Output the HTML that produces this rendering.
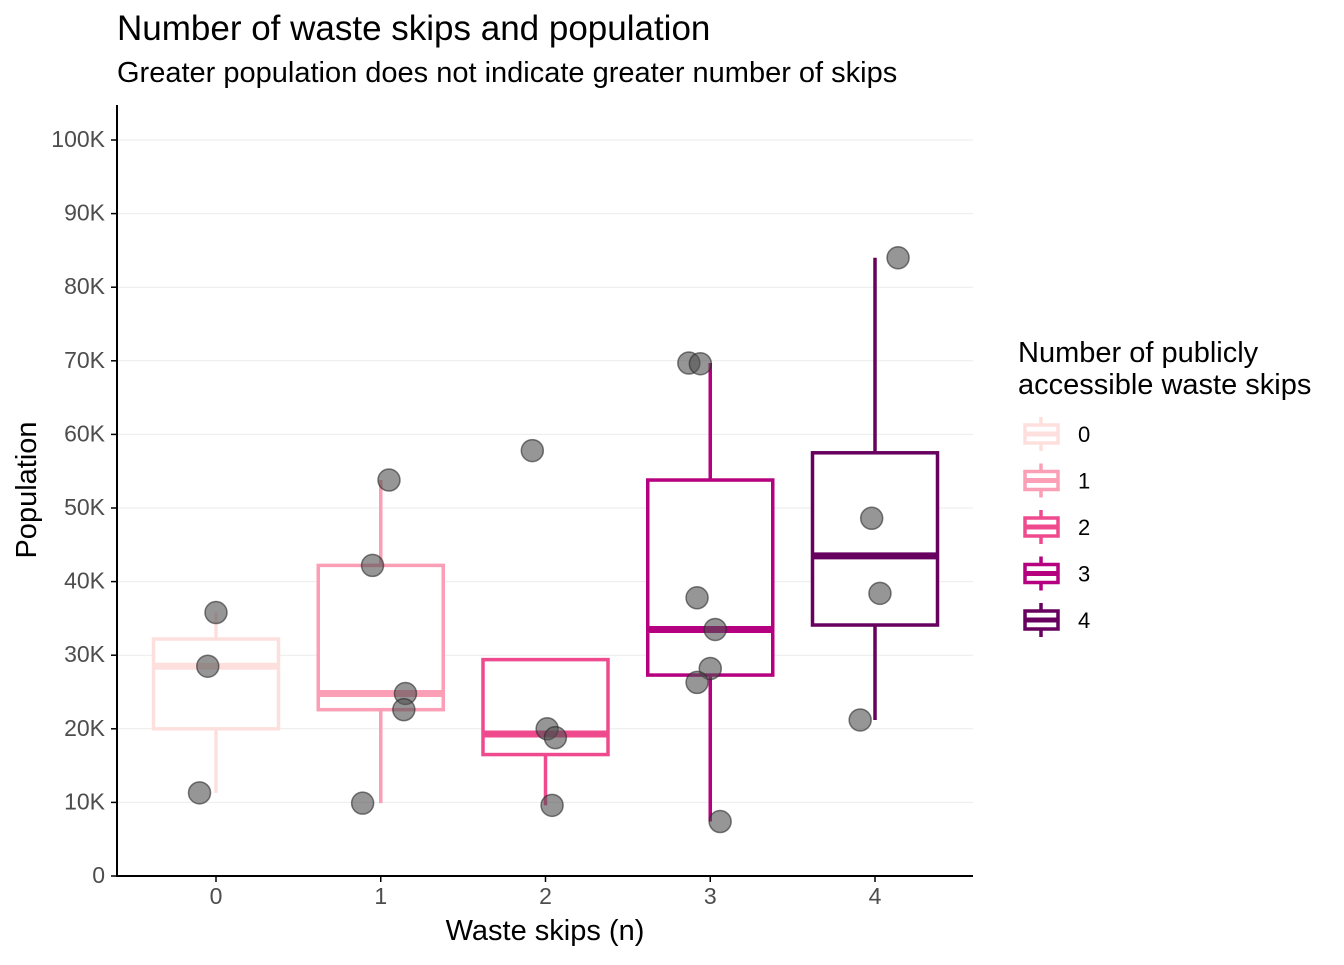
<!DOCTYPE html>
<html><head><meta charset="utf-8"><style>
body{margin:0;background:#fff}
svg text{font-family:"Liberation Sans",Arial,sans-serif}
</style></head><body>
<svg id="chart" width="1344" height="960" xmlns="http://www.w3.org/2000/svg">
<text x="117" y="40" font-size="35" fill="#000">Number of waste skips and population</text>
<text x="117" y="82" font-size="29" fill="#000">Greater population does not indicate greater number of skips</text>
<g id="grid"></g>
<g id="boxes"></g>
<g id="points"></g>
<g id="axes"></g>
<text x="545" y="940" font-size="29" text-anchor="middle">Waste skips (n)</text>
<text transform="translate(36,490) rotate(-90)" font-size="29" text-anchor="middle">Population</text>
<g id="legend">
<text x="1018" y="362" font-size="29">Number of publicly</text>
<text x="1018" y="394" font-size="29">accessible waste skips</text>
</g>
</svg>
<script>
const categories=[0,1,2,3,4];
const colors=["#fde0dd","#fa9fb5","#ef4a8e","#b5007f","#67005f"];
const q1=[20,22.6,16.5,27.3,34.1];
const med=[28.5,24.8,19.3,33.5,43.5];
const q3=[32.2,42.2,29.4,53.8,57.5];
const whiskLo=[11.3,9.9,9.6,7.4,21.2];
const whiskHi=[35.8,53.8,29.4,69.7,84];
const ptCat=[0,0,0,1,1,1,1,1,2,2,2,2,3,3,3,3,3,3,3,4,4,4,4];
const ptJit=[0,-0.05,-0.1,0.05,-0.05,0.15,0.14,-0.11,-0.08,0.01,0.06,0.04,-0.13,-0.06,-0.08,0.03,0,-0.08,0.06,0.14,-0.02,0.03,-0.09];
const ptVal=[35.8,28.5,11.3,53.8,42.2,24.8,22.6,9.9,57.8,20,18.8,9.6,69.7,69.6,37.8,33.5,28.2,26.3,7.4,84,48.6,38.4,21.2];
const yTicks=[0,10,20,30,40,50,60,70,80,90,100];
const yLabels=["0","10K","20K","30K","40K","50K","60K","70K","80K","90K","100K"];
const NS="http://www.w3.org/2000/svg";
const X=c=>216+c*164.75, Y=v=>876-v*7.36, HW=62.5;
function mk(p,t,a){const e=document.createElementNS(NS,t);for(const k in a)e.setAttribute(k,a[k]);p.appendChild(e);return e;}
const grid=document.getElementById('grid'),axes=document.getElementById('axes'),boxes=document.getElementById('boxes'),pts=document.getElementById('points'),leg=document.getElementById('legend');
yTicks.forEach((t,i)=>{
 if(t>0){const g=mk(grid,'line',{x1:117,x2:973,y1:Y(t),y2:Y(t),stroke:'#ebebeb','stroke-width':1});
 
 }
 const tk=mk(axes,'line',{x1:111,x2:117,y1:Y(t),y2:Y(t),stroke:'#000','stroke-width':1.5});
 
 
 const l=mk(axes,'text',{x:105,y:Y(t)+7,'font-size':23,fill:'#4d4d4d','text-anchor':'end'});l.textContent=yLabels[i];
 
 
});
categories.forEach(c=>{
 const tk=mk(axes,'line',{x1:X(c),x2:X(c),y1:876,y2:882,stroke:'#000','stroke-width':1.5});
 
 
 const l=mk(axes,'text',{x:X(c),y:904,'font-size':23,fill:'#4d4d4d','text-anchor':'middle'});l.textContent=c;
 
 
});
const ya=mk(axes,'line',{x1:117,x2:117,y1:105,y2:877,stroke:'#000','stroke-width':2});


const xa=mk(axes,'line',{x1:116,x2:973,y1:876,y2:876,stroke:'#000','stroke-width':2});


categories.forEach((c,i)=>{
 const g=mk(boxes,'g',{stroke:colors[i],fill:'none'});
 
 
 mk(g,'line',{x1:X(c),x2:X(c),y1:Y(q3[i]),y2:Y(whiskHi[i]),'stroke-width':3.5});
 mk(g,'line',{x1:X(c),x2:X(c),y1:Y(q1[i]),y2:Y(whiskLo[i]),'stroke-width':3.5});
 mk(g,'rect',{x:X(c)-HW,y:Y(q3[i]),width:2*HW,height:Y(q1[i])-Y(q3[i]),'stroke-width':3.5,fill:'#fff'});
 mk(g,'line',{x1:X(c)-HW,x2:X(c)+HW,y1:Y(med[i]),y2:Y(med[i]),'stroke-width':7});
 const ly=434+i*46.5, lg=mk(leg,'g',{stroke:colors[i],fill:'none'});
 
 
 mk(lg,'line',{x1:1041,x2:1041,y1:ly-17,y2:ly+17,'stroke-width':3.5});
 mk(lg,'rect',{x:1025,y:ly-9,width:33,height:18,'stroke-width':3.5,fill:'#fff'});
 mk(lg,'line',{x1:1025,x2:1058,y1:ly,y2:ly,'stroke-width':5});
 const t=mk(leg,'text',{x:1078,y:ly+8,'font-size':22,fill:'#000',stroke:'none'});t.textContent=c;
 
 
});
ptVal.forEach((v,i)=>{
 const p=mk(pts,'circle',{cx:X(ptCat[i]+ptJit[i]),cy:Y(v),r:11,fill:'rgba(80,80,80,0.6)',stroke:'rgba(40,40,40,0.6)','stroke-width':1.5});
 
 
});
</script>
</body></html>
